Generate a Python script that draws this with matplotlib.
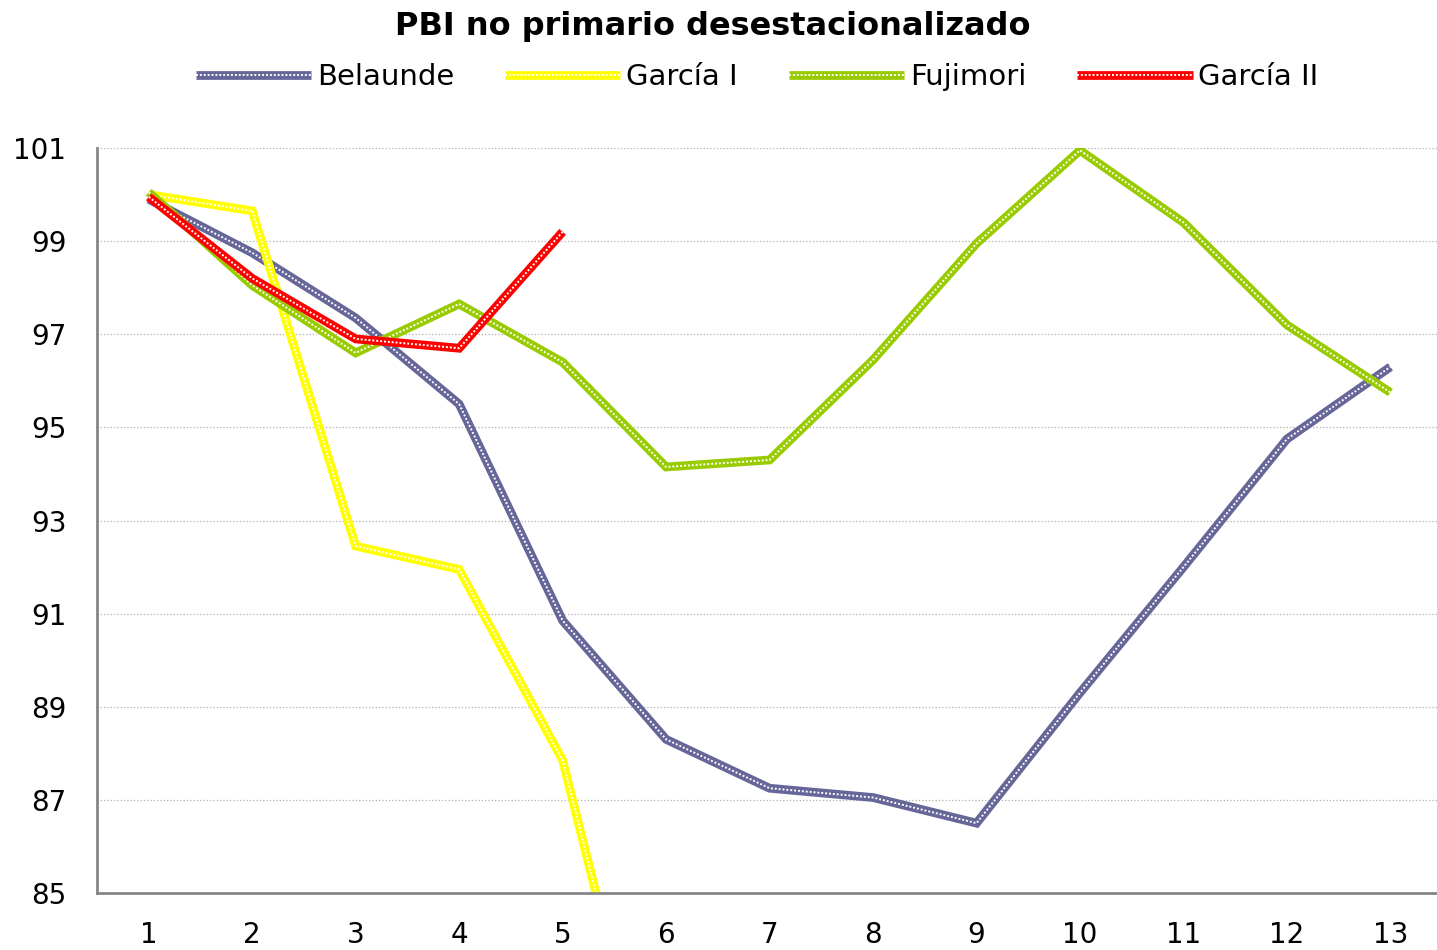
import matplotlib
matplotlib.use("Agg")
import matplotlib.pyplot as plt
from matplotlib.legend_handler import HandlerTuple

# values
periods = list(range(1, 14))
belaunde = [99.9, 98.75, 97.35, 95.5, 90.85, 88.3, 87.25, 87.05, 86.5, 89.3, 92.0, 94.75, 96.3]
garcia_1 = [100.0, 99.65, 92.45, 91.95, 87.85, 79.0]
fujimori = [100.05, 98.05, 96.6, 97.65, 96.4, 94.15, 94.3, 96.45, 98.95, 100.95, 99.4, 97.2, 95.75]
garcia_2 = [99.95, 98.2, 96.9, 96.7, 99.2]

series = [
    ("Belaunde", belaunde, "#666699"),
    ("García I", garcia_1, "#FFFF00"),
    ("Fujimori", fujimori, "#99CC00"),
    ("García II", garcia_2, "#FF0000"),
]

yticks = [85, 87, 89, 91, 93, 95, 97, 99, 101]

fig = plt.figure(figsize=(14.37, 9.5), dpi=100)
ax = fig.add_axes([0.0675, 0.06, 0.9325, 0.7842])

handles = []
labels = []
for name, vals, color in series:
    x = periods[:len(vals)]
    outer, = ax.plot(x, vals, color=color, lw=6.3, solid_joinstyle="miter",
                     solid_capstyle="butt")
    inner, = ax.plot(x, vals, color="white", lw=1.4, linestyle=(0, (1.0, 1.0)))
    handles.append((outer, inner))
    labels.append(name)

ax.set_xlim(0.5, 13.45)
ax.set_ylim(85, 101)
ax.set_xticks(periods)
ax.set_yticks(yticks)
ax.tick_params(axis="both", labelsize=20, length=0)
ax.tick_params(axis="x", pad=20)
ax.tick_params(axis="y", pad=22)

ax.grid(axis="y", color="#b0b0b0", linestyle=":", lw=0.9)
ax.set_axisbelow(True)
for side in ["top", "right"]:
    ax.spines[side].set_visible(False)
for side in ["left", "bottom"]:
    ax.spines[side].set_color("#868686")
    ax.spines[side].set_linewidth(2)

fig.text(0.496, 0.972, "PBI no primario desestacionalizado", ha="center", va="center",
         fontsize=23, fontweight="bold")

fig.legend(handles, labels, handler_map={tuple: HandlerTuple(ndivide=1, pad=0)},
           loc="center", bbox_to_anchor=(0.527, 0.919), ncol=4, frameon=False,
           fontsize=21, handlelength=3.95, handletextpad=0.2, columnspacing=1.75)

fig.savefig("out.png", dpi=100)
